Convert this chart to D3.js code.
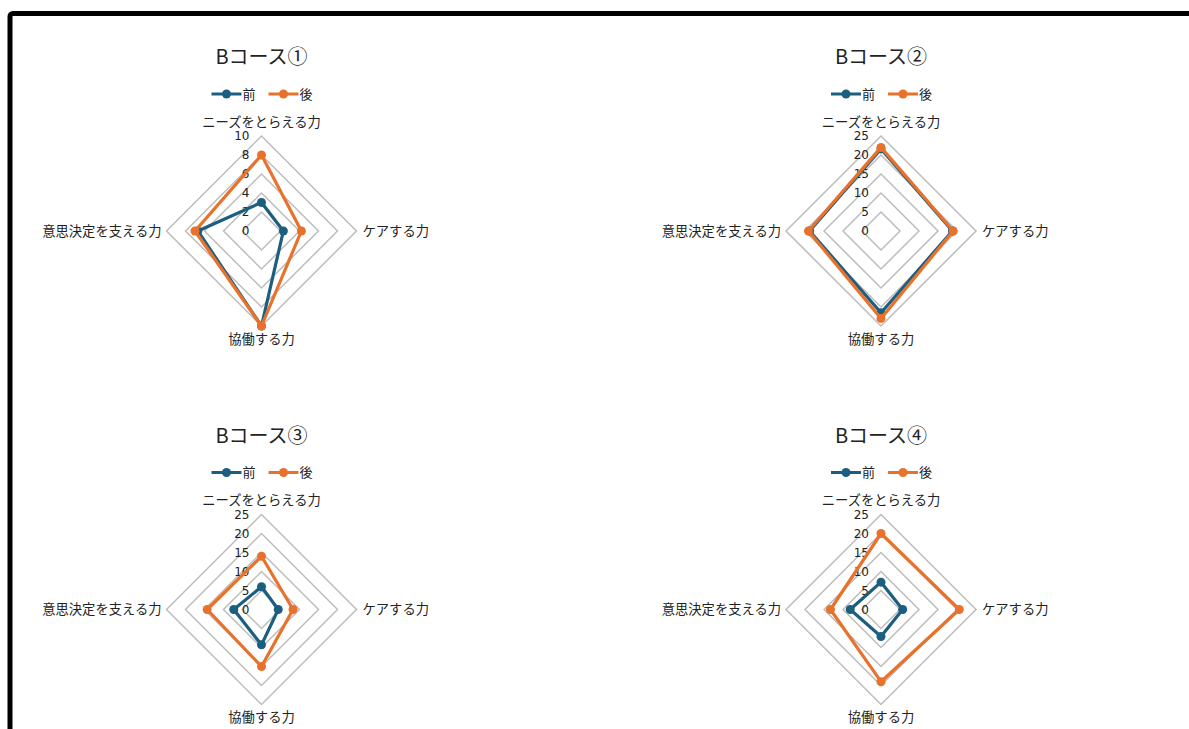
<!DOCTYPE html>
<html>
<head>
<meta charset="utf-8">
<script src="https://cdn.jsdelivr.net/npm/d3@7"></script>
<style>
  body { margin: 0; background: #fff; }
  svg text { fill: #222; }
</style>
</head>
<body>
<div id="chart"></div>
<script>
// axes, clockwise from the top
const axes = ["ニーズをとらえる力", "ケアする力", "協働する力", "意思決定を支える力"];
const seriesNames = ["前", "後"];
const titles = ["Bコース①", "Bコース②", "Bコース③", "Bコース④"];

// values per course: [前, 後]
const course1Before = [3, 2.3, 10, 6.7];
const course1After = [8, 4.2, 10, 7];
const course2Before = [21.6, 18.8, 21.5, 18.8];
const course2After = [22, 19, 23, 19.1];
const course3Before = [6, 4.4, 9.3, 7.3];
const course3After = [14, 8.3, 15, 14.3];
const course4Before = [7.2, 5.7, 7.1, 8.1];
const course4After = [20, 20.6, 19, 13.3];

const ticks1 = [0, 2, 4, 6, 8, 10];
const ticks25 = [0, 5, 10, 15, 20, 25];

const charts = [
  { title: titles[0], series: [course1Before, course1After], ticks: ticks1 },
  { title: titles[1], series: [course2Before, course2After], ticks: ticks25 },
  { title: titles[2], series: [course3Before, course3After], ticks: ticks25 },
  { title: titles[3], series: [course4Before, course4After], ticks: ticks25 }
];

const colors = ["#1b5e80", "#e8722c"];
const width = 1189, height = 729;
const centers = [[261.5, 231], [881, 231], [261.5, 609.5], [881, 609.5]];
const radius = 95;
const jpFont = "'Noto Sans CJK JP', 'Noto Sans', sans-serif";

const svg = d3.select("#chart").append("svg")
  .attr("width", width)
  .attr("height", height);

// frame (runs off the right and bottom)
svg.append("rect")
  .attr("x", 10).attr("y", 13.5)
  .attr("width", width + 20).attr("height", height + 20)
  .attr("rx", 3)
  .attr("fill", "none")
  .attr("stroke", "#000")
  .attr("stroke-width", 5);

const angle = i => i * 2 * Math.PI / axes.length; // 0 = top, clockwise

charts.forEach((c, k) => {
  const [cx, cy] = centers[k];
  const g = svg.append("g").attr("transform", `translate(${cx},${cy})`);
  const rMax = d3.max(c.ticks);
  const r = d3.scaleLinear().domain([0, rMax]).range([0, radius]);

  const radial = d3.lineRadial()
    .angle((d, i) => angle(i))
    .radius(d => r(d))
    .curve(d3.curveLinearClosed);

  // grid
  g.selectAll(".grid")
    .data(c.ticks.filter(t => t > 0))
    .enter().append("path")
    .attr("class", "grid")
    .attr("d", t => radial(axes.map(() => t)))
    .attr("fill", "none")
    .attr("stroke", "#bdbdbd")
    .attr("stroke-width", 1.5);

  // tick labels
  g.selectAll(".tick")
    .data(c.ticks)
    .enter().append("text")
    .attr("class", "tick")
    .attr("x", -12)
    .attr("y", t => -r(t))
    .attr("dy", "0.35em")
    .attr("text-anchor", "end")
    .style("font-family", "'DejaVu Sans', sans-serif")
    .style("font-size", "12px")
    .text(t => t);

  // axis labels
  const lab = [
    { x: 0, y: -109, anchor: "middle" },
    { x: 101, y: 0, anchor: "start" },
    { x: 0, y: 108, anchor: "middle" },
    { x: -100, y: 0, anchor: "end" }
  ];
  g.selectAll(".axis-label")
    .data(axes)
    .enter().append("text")
    .attr("class", "axis-label")
    .attr("x", (d, i) => lab[i].x)
    .attr("y", (d, i) => lab[i].y)
    .attr("dy", "0.35em")
    .attr("text-anchor", (d, i) => lab[i].anchor)
    .style("font-family", jpFont)
    .style("font-size", "13.3px")
    .text(d => d);

  // series
  c.series.forEach((vals, s) => {
    g.append("path")
      .attr("d", radial(vals))
      .attr("fill", "none")
      .attr("stroke", colors[s])
      .attr("stroke-width", 3.2)
      .attr("stroke-linejoin", "round");
    g.selectAll(".dot" + s)
      .data(vals)
      .enter().append("circle")
      .attr("cx", (d, i) => r(d) * Math.sin(angle(i)))
      .attr("cy", (d, i) => -r(d) * Math.cos(angle(i)))
      .attr("r", 4.5)
      .attr("fill", colors[s]);
  });

  // title
  g.append("text")
    .attr("x", 0)
    .attr("y", -174)
    .attr("dy", "0.35em")
    .attr("text-anchor", "middle")
    .style("font-family", jpFont)
    .style("font-size", "20px")
    .text(c.title);

  // legend
  const leg = g.append("g").attr("transform", "translate(-50,-137)");
  seriesNames.forEach((name, s) => {
    const lx = s * 57;
    leg.append("line")
      .attr("x1", lx).attr("x2", lx + 30)
      .attr("y1", 0).attr("y2", 0)
      .attr("stroke", colors[s])
      .attr("stroke-width", 3);
    leg.append("circle")
      .attr("cx", lx + 15).attr("cy", 0)
      .attr("r", 4.5)
      .attr("fill", colors[s]);
    leg.append("text")
      .attr("x", lx + 31)
      .attr("y", 0)
      .attr("dy", "0.35em")
      .style("font-family", jpFont)
      .style("font-size", "13px")
      .text(name);
  });
});
</script>
</body>
</html>
